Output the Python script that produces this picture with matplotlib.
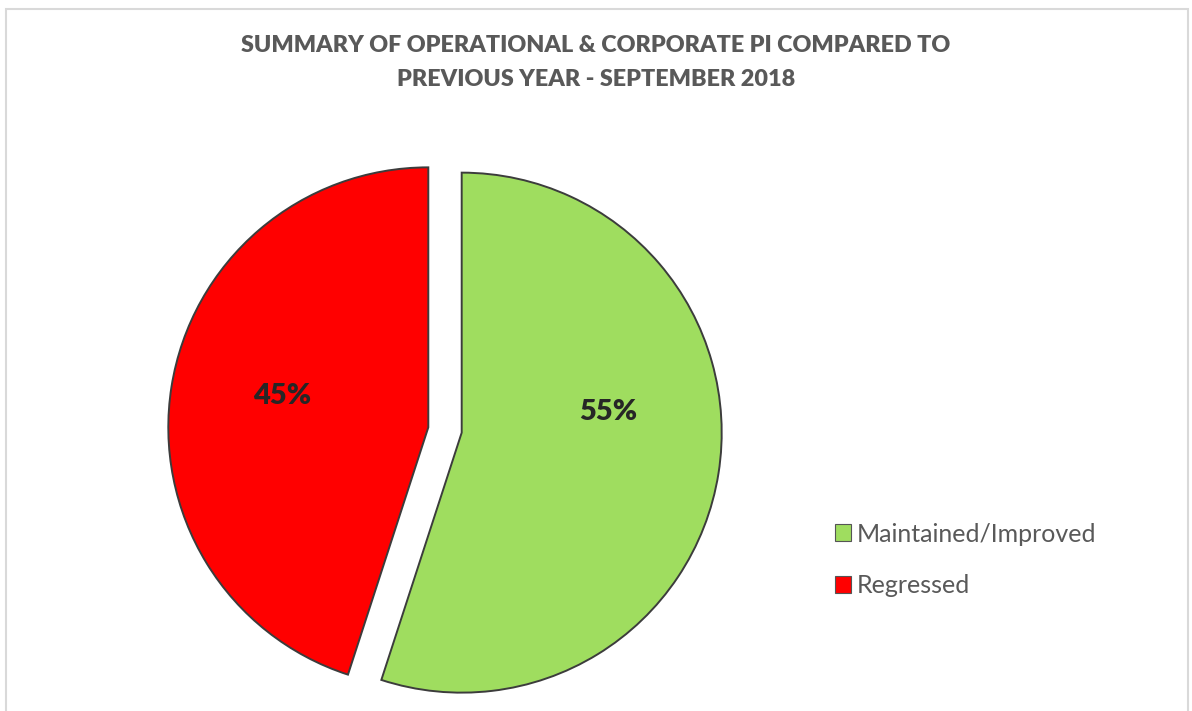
import matplotlib
matplotlib.use("Agg")
import matplotlib.pyplot as plt
from matplotlib.patches import Patch, Rectangle

categories = ["Maintained/Improved", "Regressed"]
values = [55, 45]
colors = ["#9FDD5F", "#FF0000"]
title_lines = ["SUMMARY OF OPERATIONAL & CORPORATE PI COMPARED TO",
               "PREVIOUS YEAR - SEPTEMBER 2018"]

W, H = 1192, 711
fig = plt.figure(figsize=(W / 100, H / 100), dpi=100)
fig.patch.set_facecolor("white")

# light frame
fig.add_artist(Rectangle((6 / W, -0.01), (1188 - 6) / W, (H - 9) / H + 0.01,
                         transform=fig.transFigure, fill=False,
                         edgecolor="#D9D9D9", linewidth=1.5))

font = "Lato"
fig.text(596 / W, 1 - 46 / H, title_lines[0], ha="center", va="center",
         fontsize=16.8, fontweight="heavy", color="#595959", family=font)
fig.text(596 / W, 1 - 79 / H, title_lines[1], ha="center", va="center",
         fontsize=16.8, fontweight="heavy", color="#595959", family=font)

R = 260.0
cx, cy = 445.0, 430.0
half = 300.0
ax = fig.add_axes([(cx - half) / W, (H - cy - half) / H, 2 * half / W, 2 * half / H])
L = half / R

wedges, texts, autotexts = ax.pie(
    values, colors=colors, startangle=90, counterclock=False,
    explode=[0.065, 0.065], autopct="%1.0f%%", pctdistance=0.57,
    wedgeprops=dict(edgecolor="#3C3C3C", linewidth=1.4),
    textprops=dict(fontsize=21, fontweight="heavy", color="#262626", family=font),
    radius=1.0, frame=False)
ax.set_xlim(-L, L)
ax.set_ylim(-L, L)
ax.axis("off")
# nudge the labels as in the reference
x, y = autotexts[0].get_position()
autotexts[0].set_position((x, y + 0.17))
x, y = autotexts[1].get_position()
autotexts[1].set_position((x, y + 0.03))

handles = [Patch(facecolor=c, edgecolor="#555555", linewidth=0.8) for c in colors]
leg = fig.legend(handles, categories, loc="upper left",
                 bbox_to_anchor=(812 / W, 1 - 500 / H), frameon=False,
                 handlelength=0.65, handleheight=0.65, handletextpad=0.25,
                 labelspacing=1.15,
                 prop=dict(family=font, size=18))
for t in leg.get_texts():
    t.set_color("#595959")

fig.savefig("out.png", dpi=100)
